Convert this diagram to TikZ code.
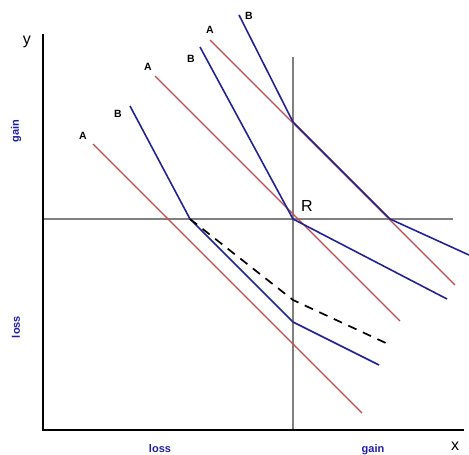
\documentclass[tikz,border=0pt]{standalone}
\usepackage{fontspec}
\setmainfont{Liberation Sans}
\definecolor{lred}{RGB}{196,72,72}
\definecolor{lblue}{RGB}{34,34,150}
\definecolor{tblue}{RGB}{30,30,170}
\definecolor{gax}{RGB}{128,128,128}
\begin{document}
\begin{tikzpicture}[x=1pt,y=-1pt,
  axis/.style={line width=2pt,black},
  refax/.style={line width=1.8pt,gax},
  aline/.style={line width=1.4pt,lred},
  bline/.style={line width=1.6pt,lblue},
  dline/.style={line width=1.7pt,black,dash pattern=on 9pt off 7pt},
  lab/.style={font=\bfseries\fontsize{10.5}{11}\selectfont,inner sep=0pt},
  qlab/.style={font=\bfseries\fontsize{11}{11}\selectfont,text=tblue,inner sep=0pt},
  alab/.style={font=\fontsize{16}{16}\selectfont,inner sep=0pt}]
\useasboundingbox (0,0) rectangle (469,455);
% coordinates
\coordinate (O) at (43,430);
\coordinate (Ytop) at (43,34);
\coordinate (Xend) at (464,430);
\coordinate (Hl) at (43,219);
\coordinate (Hr) at (453,219);
\coordinate (Vt) at (293,57);
\coordinate (Vb) at (293,430);
\coordinate (R) at (293,219);
% axes
\draw[refax] (Hl) -- (Hr);
\draw[refax] (Vt) -- (Vb);
\draw[axis] (Ytop) -- (O) -- (Xend);
% A lines
\coordinate (A1s) at (93,144);  \coordinate (A1e) at (362,413);
\coordinate (A2s) at (155,76);  \coordinate (A2e) at (400,321);
\coordinate (A3s) at (210,40);  \coordinate (A3e) at (455,285);
\draw[aline] (A1s) -- (A1e);
\draw[aline] (A2s) -- (A2e);
\draw[aline] (A3s) -- (A3e);
% B lines
\coordinate (B1s) at (130,106); \coordinate (B1k) at (190,219);
\coordinate (B1m) at (293,322); \coordinate (B1e) at (379,365);
\coordinate (B2s) at (200,47);  \coordinate (B2e) at (447,299);
\coordinate (B3s) at (239,15);  \coordinate (B3k) at (293,122);
\coordinate (B3m) at (390,219); \coordinate (B3e) at (469,255);
\draw[bline] (B1s) -- (B1k) -- (B1m) -- (B1e);
\draw[bline] (B2s) -- (R) -- (B2e);
\draw[bline] (B3s) -- (B3k) -- (B3m) -- (B3e);
% dashed
\coordinate (Dm) at (293,300); \coordinate (De) at (388,344);
\draw[dline] (B1k) -- (Dm) -- (De);
% labels
\node[lab] (la1) at (83,136) {A};
\node[lab] (lb1) at (118,114) {B};
\node[lab] (la2) at (148,67) {A};
\node[lab] (lb2) at (191,59) {B};
\node[lab] (la3) at (210,30) {A};
\node[lab] (lb3) at (249,16) {B};
\node[alab] (lR) at (307,206) {R};
\node[alab] (ly) at (27,42) {y};
\node[alab] (lx) at (455,446) {x};
\node[qlab,rotate=90] (gy) at (16,131) {gain};
\node[qlab,rotate=90] (ly2) at (16,327) {loss};
\node[qlab] (lxl) at (160,449) {loss};
\node[qlab] (lxg) at (373,450) {gain};
\end{tikzpicture}
\end{document}
